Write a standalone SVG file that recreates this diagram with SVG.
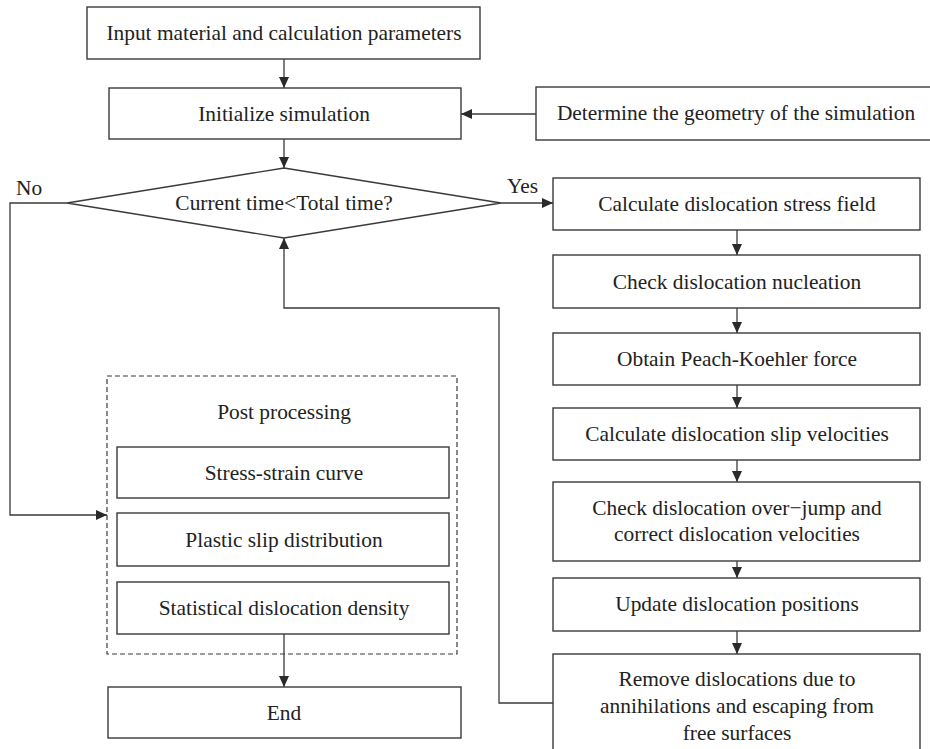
<svg xmlns="http://www.w3.org/2000/svg" width="930" height="749" viewBox="0 0 930 749">
<defs>
<style>
.b{fill:#fff;stroke:#3a3a3a;stroke-width:1.4}
.d{fill:none;stroke:#3a3a3a;stroke-width:1.2;stroke-dasharray:5,3}
.c{fill:none;stroke:#3a3a3a;stroke-width:1.3}
.a{marker-end:url(#ah)}
</style>
<marker id="ah" markerWidth="12" markerHeight="10" refX="11" refY="5" orient="auto" markerUnits="userSpaceOnUse">
<path d="M0,0 L11,5 L0,10 Z" fill="#2a2a2a"/>
</marker>
</defs>
<rect width="930" height="749" fill="#fff"/>
<g id="connectors">
<path class="c a" d="M284,59 V88"/>
<path class="c a" d="M284,139 V168"/>
<path class="c a" d="M536,114 H461"/>
<path class="c a" d="M501,203 H553"/>
<path class="c a" d="M67,203 H10 V515 H107"/>
<path class="c a" d="M737,230 V255"/>
<path class="c a" d="M737,308 V333"/>
<path class="c a" d="M737,385 V408"/>
<path class="c a" d="M737,460 V482"/>
<path class="c a" d="M737,561 V578"/>
<path class="c a" d="M737,631 V654"/>
<path class="c a" d="M553,703 H499 V308 H284 V238"/>
<path class="c a" d="M284,634 V687"/>
</g>
<g font-family="Liberation Serif" font-size="21.4" fill="#222" text-anchor="middle">
<g id="input"><rect class="b" x="87" y="7" width="393" height="52"/><text x="284" y="40">Input material and calculation parameters</text></g>
<g id="init"><rect class="b" x="109" y="88" width="352" height="51"/><text x="284" y="121">Initialize simulation</text></g>
<g id="geometry"><rect class="b" x="536" y="87" width="400" height="53"/><text x="736" y="120">Determine the geometry of the simulation</text></g>
<g id="decision"><polygon class="b" points="284,168 501,203 284,238 67,203"/><text x="284" y="210">Current time&lt;Total time?</text></g>
<g id="no-label"><text x="16" y="195" text-anchor="start">No</text></g>
<g id="yes-label"><text x="507" y="193" text-anchor="start">Yes</text></g>
<g id="stress"><rect class="b" x="553" y="178" width="367" height="52"/><text x="737" y="211">Calculate dislocation stress field</text></g>
<g id="nucleation"><rect class="b" x="553" y="255" width="367" height="53"/><text x="737" y="289">Check dislocation nucleation</text></g>
<g id="pk"><rect class="b" x="553" y="333" width="367" height="52"/><text x="737" y="366">Obtain Peach-Koehler force</text></g>
<g id="velocities"><rect class="b" x="553" y="408" width="367" height="52"/><text x="737" y="441">Calculate dislocation slip velocities</text></g>
<g id="overjump"><rect class="b" x="553" y="482" width="367" height="79"/><text x="737" y="515">Check dislocation over−jump and</text><text x="737" y="541">correct dislocation velocities</text></g>
<g id="update"><rect class="b" x="553" y="578" width="367" height="53"/><text x="737" y="611">Update dislocation positions</text></g>
<g id="remove"><rect class="b" x="553" y="654" width="367" height="100"/><text x="737" y="686">Remove dislocations due to</text><text x="737" y="713">annihilations and escaping from</text><text x="737" y="740">free surfaces</text></g>
<g id="post"><rect class="d" x="107" y="376" width="350" height="278"/><text x="284" y="419">Post processing</text></g>
<g id="stress-strain"><rect class="b" x="117" y="447" width="332" height="51"/><text x="284" y="480">Stress-strain curve</text></g>
<g id="plastic"><rect class="b" x="117" y="513" width="332" height="53"/><text x="284" y="547">Plastic slip distribution</text></g>
<g id="density"><rect class="b" x="117" y="582" width="332" height="52"/><text x="284" y="615">Statistical dislocation density</text></g>
<g id="end"><rect class="b" x="108" y="687" width="353" height="51"/><text x="284" y="720">End</text></g>
</g>
</svg>
